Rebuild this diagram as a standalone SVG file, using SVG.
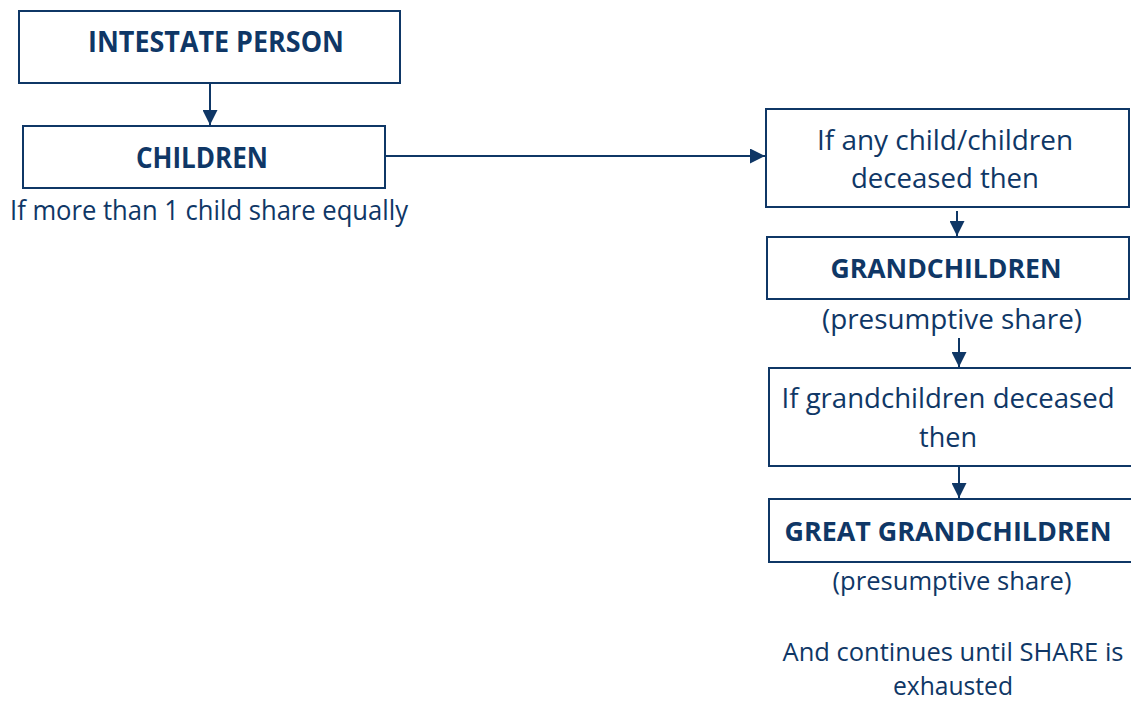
<svg xmlns="http://www.w3.org/2000/svg" width="1131" height="702" viewBox="0 0 1131 702">
  <defs>
    <marker id="ah" viewBox="0 0 10 10" refX="10" refY="5" markerWidth="7.5" markerHeight="7.5" markerUnits="strokeWidth" orient="auto">
      <path d="M0,0 L10,5 L0,10 z" fill="#0F3766"/>
    </marker>
    <style>
      .box { fill: #FFFFFF; stroke: #0F3766; stroke-width: 2; }
      .t { font-family: "Open Sans", "Noto Sans", sans-serif; fill: #0F3766; text-anchor: middle; }
      .b { font-weight: bold; }
      .conn { stroke: #0F3766; stroke-width: 2; fill: none; }
    </style>
  </defs>
  <rect width="1131" height="702" fill="#FFFFFF"/>

  <g id="connectors">
    <line class="conn" x1="210" y1="83" x2="210" y2="125" marker-end="url(#ah)"/>
    <line class="conn" x1="386" y1="156" x2="765" y2="156" marker-end="url(#ah)"/>
    <line class="conn" x1="957" y1="211" x2="957" y2="236" marker-end="url(#ah)"/>
    <line class="conn" x1="959" y1="338" x2="959" y2="367" marker-end="url(#ah)"/>
    <line class="conn" x1="959" y1="467" x2="959" y2="498" marker-end="url(#ah)"/>
  </g>

  <g id="intestate">
    <rect class="box" x="19" y="11" width="381" height="72"/>
    <text class="t b" x="216" y="52" font-size="28" textLength="256" lengthAdjust="spacingAndGlyphs">INTESTATE PERSON</text>
  </g>

  <g id="children">
    <rect class="box" x="23" y="126" width="362" height="62"/>
    <text class="t b" x="202" y="168" font-size="28" textLength="132" lengthAdjust="spacingAndGlyphs">CHILDREN</text>
    <text class="t" x="209" y="220" font-size="28" textLength="398" lengthAdjust="spacingAndGlyphs">If more than 1 child share equally</text>
  </g>

  <g id="child-deceased">
    <rect class="box" x="766" y="109" width="363" height="98"/>
    <text class="t" x="945" y="150" font-size="28" textLength="256" lengthAdjust="spacingAndGlyphs">If any child/children</text>
    <text class="t" x="945" y="188" font-size="28" textLength="188" lengthAdjust="spacingAndGlyphs">deceased then</text>
  </g>

  <g id="grandchildren">
    <rect class="box" x="767" y="237" width="362" height="62"/>
    <text class="t b" x="946" y="278" font-size="26" textLength="231" lengthAdjust="spacingAndGlyphs">GRANDCHILDREN</text>
    <text class="t" x="952" y="329" font-size="28" textLength="260" lengthAdjust="spacingAndGlyphs">(presumptive share)</text>
  </g>

  <g id="grandchildren-deceased">
    <rect class="box" x="769" y="368" width="370" height="98"/>
    <text class="t" x="948" y="408" font-size="28" textLength="333" lengthAdjust="spacingAndGlyphs">If grandchildren deceased</text>
    <text class="t" x="948" y="447" font-size="28" textLength="58" lengthAdjust="spacingAndGlyphs">then</text>
  </g>

  <g id="great-grandchildren">
    <rect class="box" x="769" y="499" width="370" height="63"/>
    <text class="t b" x="948" y="541" font-size="26" textLength="327" lengthAdjust="spacingAndGlyphs">GREAT GRANDCHILDREN</text>
    <text class="t" x="952" y="590" font-size="26" textLength="239" lengthAdjust="spacingAndGlyphs">(presumptive share)</text>
  </g>

  <g id="continues-note">
    <text class="t" x="953" y="661" font-size="25" textLength="341" lengthAdjust="spacingAndGlyphs">And continues until SHARE is</text>
    <text class="t" x="953" y="695" font-size="25" textLength="120" lengthAdjust="spacingAndGlyphs">exhausted</text>
  </g>
</svg>
